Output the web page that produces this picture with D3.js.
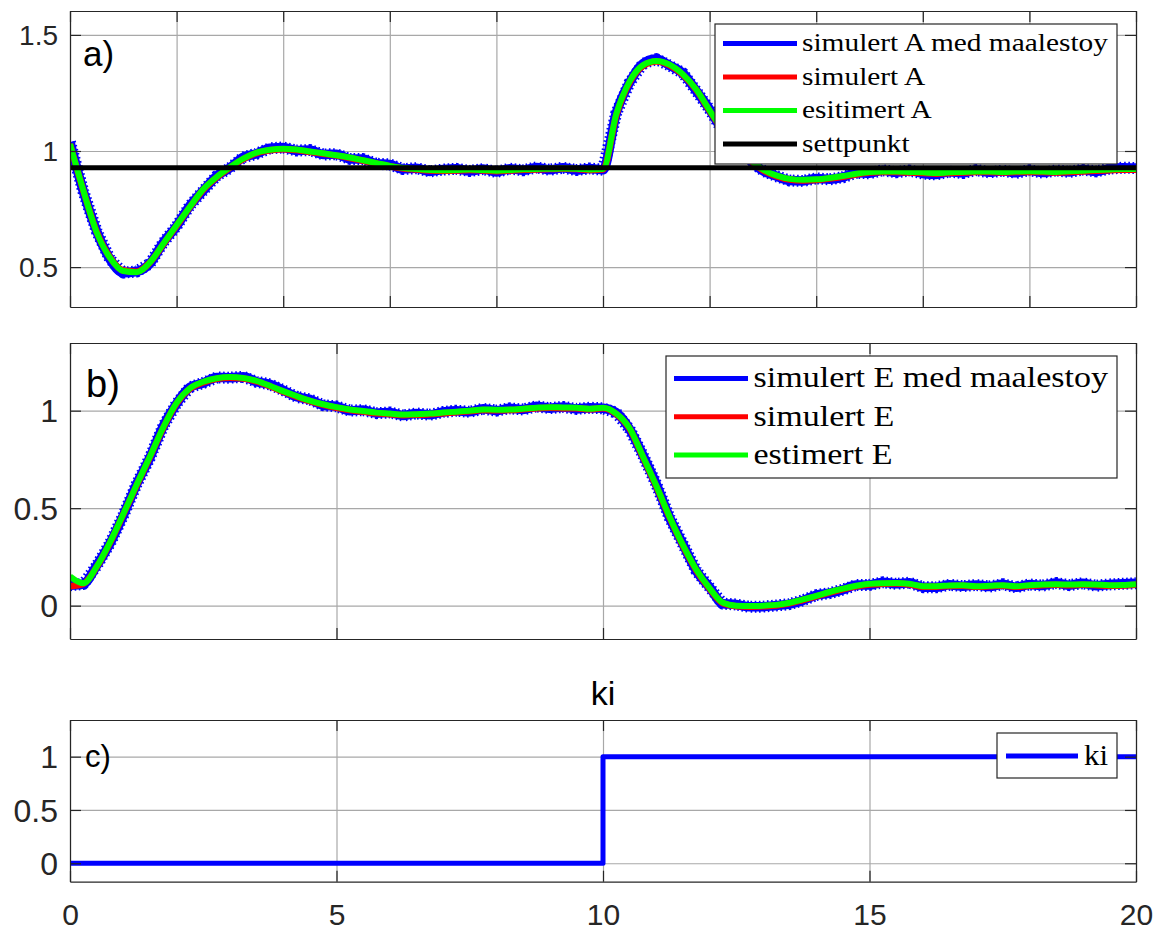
<!DOCTYPE html>
<html>
<head>
<meta charset="utf-8">
<script src="https://cdn.jsdelivr.net/npm/d3@7"></script>
<style>
  body { margin: 0; background: #fff; }
  svg { display: block; }
</style>
</head>
<body>
<div id="root"></div>
<script>
// sample times (s)
const timeGrid = [0,0.25,0.5,0.75,1,1.25,1.5,1.75,2,2.25,2.5,2.75,3,3.25,3.5,3.75,4,4.25,4.5,4.75,
  5,5.25,5.5,5.75,6,6.25,6.5,6.75,7,7.25,7.5,7.75,8,8.25,8.5,8.75,9,9.25,9.5,9.75,
  10,10.25,10.5,10.75,11,11.25,11.5,11.75,12,12.25,12.5,12.75,13,13.25,13.5,13.75,14,14.25,14.5,14.75,
  15,15.25,15.5,15.75,16,16.25,16.5,16.75,17,17.25,17.5,17.75,18,18.25,18.5,18.75,19,19.25,19.5,19.75,20];

// a) A
const aNoisy = [1.038,0.826,0.655,0.534,0.476,0.481,0.515,0.606,0.676,0.765,0.829,0.892,0.927,0.973,0.988,1.012,1.015,1.002,1.004,0.985,
  0.986,0.966,0.965,0.945,0.942,0.922,0.926,0.912,0.920,0.923,0.914,0.922,0.910,0.924,0.917,0.929,0.919,0.928,0.918,0.925,
  0.919,1.164,1.295,1.376,1.396,1.368,1.335,1.259,1.179,1.085,1.026,0.961,0.915,0.892,0.873,0.871,0.882,0.878,0.887,0.906,
  0.904,0.917,0.908,0.916,0.903,0.899,0.911,0.905,0.918,0.908,0.915,0.906,0.917,0.907,0.916,0.910,0.920,0.912,0.924,0.928,0.927];
const aSimulated = [1.03,0.83,0.652,0.542,0.485,0.48,0.52,0.598,0.678,0.758,0.833,0.886,0.928,0.965,0.991,1.003,1.008,1.004,0.996,0.988,
  0.98,0.97,0.958,0.946,0.934,0.925,0.92,0.916,0.915,0.916,0.918,0.916,0.913,0.916,0.919,0.92,0.922,0.923,0.922,0.918,
  0.92,1.155,1.296,1.366,1.385,1.369,1.328,1.263,1.173,1.088,1.018,0.962,0.917,0.892,0.877,0.873,0.875,0.881,0.889,0.899,
  0.907,0.909,0.909,0.907,0.905,0.902,0.905,0.907,0.909,0.909,0.907,0.909,0.91,0.909,0.907,0.91,0.912,0.915,0.917,0.919,0.919];
const aEstimated = [1.03,0.83,0.65,0.54,0.483,0.478,0.52,0.60,0.68,0.76,0.835,0.888,0.93,0.967,0.993,1.005,1.01,1.006,0.998,0.99,
  0.982,0.972,0.96,0.948,0.936,0.927,0.922,0.918,0.917,0.918,0.92,0.918,0.915,0.918,0.921,0.922,0.924,0.925,0.924,0.92,
  0.922,1.16,1.30,1.37,1.388,1.372,1.33,1.265,1.175,1.09,1.02,0.965,0.92,0.895,0.88,0.876,0.878,0.884,0.892,0.902,
  0.91,0.912,0.912,0.91,0.908,0.905,0.908,0.91,0.912,0.912,0.91,0.912,0.913,0.912,0.91,0.913,0.915,0.918,0.92,0.922,0.922];
const setpointTime = [0, 20];
const setpointValue = [0.928, 0.928];

// b) E
const eNoisy = [0.105,0.111,0.205,0.319,0.463,0.623,0.76,0.921,1.036,1.12,1.142,1.17,1.169,1.174,1.148,1.135,1.105,1.071,1.058,1.028,
  1.022,1.0,1.003,0.987,0.991,0.975,0.986,0.979,0.993,1.0,0.994,1.01,1.0,1.012,1.006,1.022,1.013,1.019,1.009,1.015,
  1.012,0.989,0.905,0.771,0.623,0.451,0.315,0.179,0.094,0.01,0.006,-0.006,-0.005,0.001,0.008,0.027,0.054,0.064,0.082,0.106,
  0.106,0.12,0.112,0.118,0.095,0.094,0.107,0.1,0.106,0.098,0.11,0.094,0.109,0.103,0.116,0.105,0.115,0.102,0.109,0.112,0.115];
const eSimulated = [0.1,0.112,0.198,0.322,0.468,0.617,0.762,0.912,1.037,1.112,1.145,1.163,1.169,1.165,1.15,1.125,1.097,1.072,1.049,1.03,
  1.015,1.003,0.995,0.987,0.982,0.977,0.979,0.982,0.987,0.992,0.997,1.003,1.002,1.003,1.007,1.012,1.015,1.013,1.012,1.007,
  1.012,0.982,0.907,0.762,0.612,0.452,0.307,0.182,0.087,0.012,-0.003,-0.005,-0.003,0.001,0.012,0.029,0.047,0.067,0.084,0.099,
  0.109,0.112,0.113,0.109,0.097,0.097,0.101,0.102,0.097,0.099,0.102,0.097,0.102,0.105,0.107,0.105,0.107,0.105,0.102,0.103,0.107];
const eEstimated = [0.15,0.115,0.2,0.325,0.47,0.62,0.765,0.915,1.04,1.115,1.148,1.166,1.172,1.168,1.153,1.128,1.1,1.075,1.052,1.033,
  1.018,1.006,0.998,0.99,0.985,0.98,0.982,0.985,0.99,0.995,1.0,1.006,1.005,1.006,1.01,1.015,1.018,1.016,1.015,1.01,
  1.015,0.985,0.91,0.765,0.615,0.455,0.31,0.185,0.09,0.015,0.0,-0.002,0.0,0.004,0.015,0.032,0.05,0.07,0.087,0.102,
  0.112,0.115,0.116,0.112,0.1,0.1,0.104,0.105,0.1,0.102,0.105,0.1,0.105,0.108,0.11,0.108,0.11,0.108,0.105,0.106,0.11];

// c) ki
const kiTime = [0, 10, 10, 20];
const kiValue = [0, 0, 1, 1];

// ticks
const xTicksA = [0, 2, 4, 6, 8, 10, 12, 14, 16, 18, 20];
const xTicksBC = [0, 5, 10, 15, 20];
const xTickLabels = ["0", "5", "10", "15", "20"];
const yTicksA = [0.5, 1, 1.5];
const yTicksBC = [0, 0.5, 1];
const yTickLabels = ["0", "0.5", "1"];

const legendA = ["simulert A med maalestoy", "simulert A", "esitimert A", "settpunkt"];
const legendB = ["simulert E med maalestoy", "simulert E", "estimert E"];
const legendC = ["ki"];

const BLUE = "#0000ff", RED = "#ff0000", GREEN = "#00ff00", BLACK = "#000000";
const AXIS = "#262626", GRID = "#a8a8a8";
const SANS = "'Liberation Sans', Arial, Helvetica, sans-serif";
const SERIF = "'Liberation Serif', 'Times New Roman', serif";

const svg = d3.select("#root").append("svg")
  .attr("width", 1158).attr("height", 932);

function panel(id, top, bottom, yDomain, yTicks, yLabels, xTicks, fontSize) {
  const x = d3.scaleLinear().domain([0, 20]).range([70, 1136]);
  const y = d3.scaleLinear().domain(yDomain).range([bottom, top]);
  const w = 1136 - 70, h = bottom - top;

  svg.append("clipPath").attr("id", "clip-" + id)
    .append("rect").attr("x", 70).attr("y", top).attr("width", w).attr("height", h);

  // grid
  const grid = svg.append("g").attr("class", "grid");
  grid.append("g").attr("transform", `translate(0,${bottom})`)
    .call(d3.axisBottom(x).tickValues(xTicks).tickSize(-h).tickFormat(""));
  grid.append("g").attr("transform", "translate(70,0)")
    .call(d3.axisLeft(y).tickValues(yTicks).tickSize(-w).tickFormat(""));
  grid.selectAll(".domain").remove();
  grid.selectAll("line").attr("stroke", GRID).attr("stroke-width", 1.2);

  const plot = svg.append("g").attr("clip-path", `url(#clip-${id})`);

  // box + inward ticks
  const box = svg.append("g").attr("class", "box");
  const left = box.append("g").attr("transform", "translate(70,0)")
    .call(d3.axisLeft(y).tickValues(yTicks).tickSizeInner(-11).tickSizeOuter(0)
      .tickPadding(12).tickFormat((d, i) => yLabels[i]));
  box.append("g").attr("transform", "translate(1136,0)")
    .call(d3.axisRight(y).tickValues(yTicks).tickSizeInner(-11).tickSizeOuter(0).tickFormat(""));
  box.append("g").attr("transform", `translate(0,${top})`)
    .call(d3.axisTop(x).tickValues(xTicks).tickSizeInner(-11).tickSizeOuter(0).tickFormat(""));
  const bot = box.append("g").attr("transform", `translate(0,${bottom})`)
    .call(d3.axisBottom(x).tickValues(xTicks).tickSizeInner(-11).tickSizeOuter(0).tickFormat(""));
  box.selectAll(".domain").attr("stroke", AXIS).attr("stroke-width", 1.2);
  box.selectAll("line").attr("stroke", AXIS).attr("stroke-width", 1.2);
  left.selectAll("text").attr("font-family", SANS).attr("font-size", fontSize)
    .attr("fill", AXIS).attr("dy", "0.35em");

  return { x, y, plot, bot };
}

function drawLine(p, xs, ys, color, width, curve, dash) {
  const line = d3.line().x(d => p.x(d[0])).y(d => p.y(d[1])).curve(curve || d3.curveLinear);
  p.plot.append("path")
    .datum(xs.map((t, i) => [t, ys[i]]))
    .attr("d", line)
    .attr("fill", "none")
    .attr("stroke", color)
    .attr("stroke-width", width)
    .attr("stroke-dasharray", dash || null)
    .attr("stroke-linejoin", "round");
}

// noisy measurement: solid core plus a dotted rim for the fuzzy edge
function drawNoisy(p, xs, ys) {
  drawLine(p, xs, ys, BLUE, 9.5, d3.curveMonotoneX);
  drawLine(p, xs, ys, BLUE, 12, d3.curveLinear, "1.6,2.6");
}

function legend(labels, colors, bx, by, bw, bh, lineX0, lineX1, row0, rowStep, textX, fontSize, target) {
  const g = svg.append("g");
  g.append("rect").attr("x", bx).attr("y", by).attr("width", bw).attr("height", bh)
    .attr("fill", "#fff").attr("stroke", AXIS).attr("stroke-width", 1.2);
  const rows = g.selectAll(".row").data(labels).enter().append("g");
  rows.append("line")
    .attr("x1", lineX0).attr("x2", lineX1)
    .attr("y1", (d, i) => row0 + i * rowStep).attr("y2", (d, i) => row0 + i * rowStep)
    .attr("stroke", (d, i) => colors[i]).attr("stroke-width", 5);
  const texts = rows.append("text")
    .attr("x", textX).attr("y", (d, i) => row0 + i * rowStep + fontSize * 0.3)
    .attr("font-family", SERIF).attr("font-size", fontSize).attr("fill", "#000")
    .text(d => d);
  const widths = texts.nodes().map(n => n.getComputedTextLength());
  const k = target / d3.max(widths);
  texts.attr("textLength", (d, i) => widths[i] * k).attr("lengthAdjust", "spacingAndGlyphs");
}

// ---- a)
const pA = panel("a", 11, 307, [0.328, 1.603], yTicksA, ["0.5", "1", "1.5"], xTicksA, 28);
drawNoisy(pA, timeGrid, aNoisy);
drawLine(pA, timeGrid, aSimulated, RED, 6.5, d3.curveMonotoneX);
drawLine(pA, timeGrid, aEstimated, GREEN, 6, d3.curveMonotoneX);
drawLine(pA, setpointTime, setpointValue, BLACK, 5);
svg.append("text").attr("x", 83).attr("y", 66).attr("font-family", SANS)
  .attr("font-size", 35).attr("fill", "#000").text("a)");
legend(legendA, [BLUE, RED, GREEN, BLACK], 715, 24, 402, 140, 723, 797, 43.5, 33.5, 802, 25, 306);

// ---- b)
const pB = panel("b", 343, 639, [-0.171, 1.347], yTicksBC, yTickLabels, xTicksBC, 32);
drawNoisy(pB, timeGrid, eNoisy);
drawLine(pB, timeGrid, eSimulated, RED, 6.5, d3.curveMonotoneX);
drawLine(pB, timeGrid, eEstimated, GREEN, 6, d3.curveMonotoneX);
svg.append("text").attr("x", 86).attr("y", 397).attr("font-family", SANS)
  .attr("font-size", 38).attr("fill", "#000").text("b)");
legend(legendB, [BLUE, RED, GREEN], 666, 356, 451, 122, 674, 748, 378.5, 38.3, 753.5, 29, 354.5);

// ---- c)
const pC = panel("c", 720, 881.7, [-0.173, 1.344], yTicksBC, yTickLabels, xTicksBC, 32);
drawLine(pC, kiTime, kiValue, BLUE, 5);
pC.bot.selectAll("text").remove();
pC.bot.selectAll(".tick").append("text")
  .attr("y", 43.5).attr("text-anchor", "middle")
  .attr("font-family", SANS).attr("font-size", 30).attr("fill", AXIS)
  .text((d, i) => xTickLabels[i]);
svg.append("text").attr("x", 85).attr("y", 767).attr("font-family", SANS)
  .attr("font-size", 31).attr("fill", "#000").text("c)");
svg.append("text").attr("x", 603).attr("y", 705).attr("text-anchor", "middle")
  .attr("font-family", SANS).attr("font-size", 34).attr("fill", "#000").text("ki");
legend(legendC, [BLUE], 997, 733, 120, 45, 1006, 1078, 756, 0, 1084, 29, 24);
</script>
</body>
</html>
